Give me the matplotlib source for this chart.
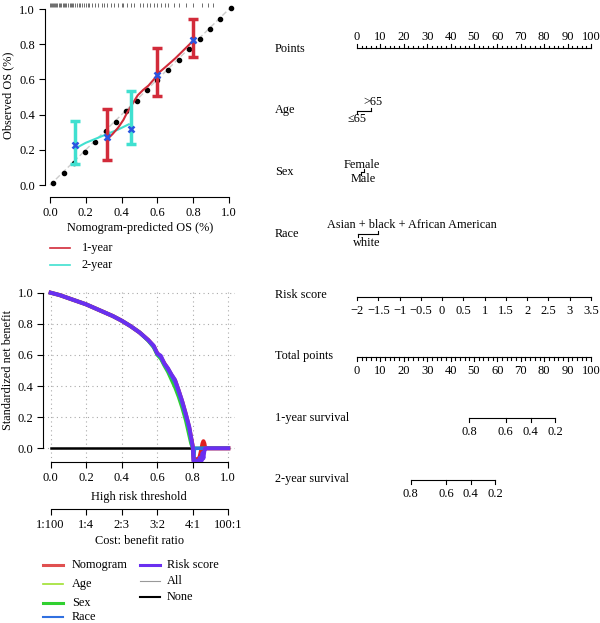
import matplotlib
matplotlib.use('Agg')
import matplotlib.pyplot as plt
from matplotlib.lines import Line2D

plt.rcParams['font.family'] = ['Liberation Serif', 'DejaVu Serif']
plt.rcParams['font.size'] = 8.8

W, H = 600, 623

# ---- calibration data ----
diag_x = [0.018, 0.078, 0.136, 0.194, 0.253, 0.311, 0.369, 0.426, 0.484, 0.542, 0.600,
          0.659, 0.719, 0.778, 0.836, 0.894, 0.951, 1.010]
diag_y = [0.011, 0.068, 0.127, 0.188, 0.246, 0.305, 0.360, 0.420, 0.480, 0.538, 0.597,
          0.653, 0.712, 0.773, 0.830, 0.888, 0.945, 1.004]

yr1_line_x = [0.325, 0.35, 0.38, 0.41, 0.43, 0.46, 0.49, 0.52, 0.55, 0.58, 0.61, 0.65, 0.70, 0.75, 0.80]
yr1_line_y = [0.265, 0.29, 0.325, 0.37, 0.41, 0.46, 0.51, 0.54, 0.565, 0.60, 0.64, 0.675, 0.72, 0.77, 0.82]
yr1_x = [0.32, 0.60, 0.80]
yr1_y = [0.275, 0.625, 0.824]
yr1_lo = [0.142, 0.507, 0.729]
yr1_hi = [0.430, 0.776, 0.943]

yr2_line_x = [0.145, 0.20, 0.26, 0.32, 0.38, 0.44]
yr2_line_y = [0.21, 0.24, 0.265, 0.29, 0.315, 0.345]
yr2_x = [0.14, 0.45]
yr2_y = [0.227, 0.318]
yr2_lo = [0.118, 0.233]
yr2_hi = [0.365, 0.534]

rug = [0.0, 0.005, 0.01, 0.015, 0.02, 0.03, 0.035, 0.04, 0.05, 0.055, 0.06, 0.07, 0.08,
       0.085, 0.09, 0.10, 0.11, 0.12, 0.125, 0.13, 0.14, 0.15, 0.16, 0.17, 0.18, 0.19,
       0.20, 0.21, 0.22, 0.235, 0.25, 0.27, 0.29, 0.30, 0.32, 0.34, 0.36, 0.38, 0.40,
       0.41, 0.43, 0.45, 0.47, 0.50, 0.52, 0.54, 0.56, 0.58, 0.60, 0.62, 0.64, 0.66,
       0.69, 0.72, 0.76, 0.80, 0.85, 0.88, 0.91]

# ---- decision curve data ----
thr = [0.0, 0.05, 0.1, 0.15, 0.2, 0.25, 0.3, 0.35, 0.4, 0.45, 0.5, 0.55, 0.58, 0.6, 0.62,
       0.64, 0.66, 0.68, 0.7, 0.72, 0.74, 0.76, 0.78, 0.79, 0.80, 0.805, 0.81, 0.82, 0.83,
       0.84, 0.85, 0.855, 0.86, 0.865, 0.87, 0.88, 0.9, 0.95, 1.0]
nb_nomogram = [1.0, 0.985, 0.965, 0.945, 0.925, 0.90, 0.875, 0.85, 0.82, 0.785, 0.745, 0.695,
               0.655, 0.61, 0.585, 0.545, 0.51, 0.47, 0.435, 0.37, 0.30, 0.22, 0.13, 0.07,
               0.01, -0.08, -0.08, -0.07, -0.08, -0.05, 0.0, 0.03, 0.045, 0.03, 0.0, 0.0,
               0.0, 0.0, 0.0]
nb_age = [1.0, 0.985, 0.965, 0.945, 0.925, 0.90, 0.875, 0.85, 0.82, 0.785, 0.745, 0.69,
          0.65, 0.605, 0.58, 0.535, 0.50, 0.455, 0.41, 0.35, 0.28, 0.20, 0.10, 0.05,
          0.0, -0.03, 0.0, 0.0, 0.0, 0.0, 0.0, 0.0, 0.0, 0.0, 0.0, 0.0, 0.0, 0.0, 0.0]
nb_sex = [1.0, 0.985, 0.965, 0.945, 0.925, 0.90, 0.875, 0.85, 0.82, 0.785, 0.745, 0.69,
          0.648, 0.60, 0.575, 0.53, 0.49, 0.44, 0.39, 0.33, 0.26, 0.18, 0.08, 0.03,
          0.0, 0.0, 0.0, 0.0, 0.0, 0.0, 0.0, 0.0, 0.0, 0.0, 0.0, 0.0, 0.0, 0.0, 0.0]
nb_race = [1.0, 0.985, 0.965, 0.945, 0.925, 0.90, 0.875, 0.85, 0.82, 0.785, 0.745, 0.693,
           0.652, 0.607, 0.585, 0.54, 0.505, 0.465, 0.425, 0.36, 0.29, 0.21, 0.12, 0.06,
           0.0, -0.085, 0.0, 0.0, 0.0, 0.0, 0.0, 0.0, 0.0, 0.0, 0.0, 0.0, 0.0, 0.0, 0.0]
nb_risk = [1.0, 0.985, 0.965, 0.945, 0.925, 0.90, 0.875, 0.85, 0.82, 0.785, 0.745, 0.695,
           0.66, 0.61, 0.595, 0.545, 0.515, 0.475, 0.44, 0.375, 0.305, 0.225, 0.14, 0.075,
           0.01, -0.085, -0.085, -0.08, -0.085, -0.06, -0.08, -0.03, -0.065, -0.02, 0.0,
           0.0, 0.0, 0.0, 0.0]
nb_all = [1.0, 0.985, 0.965, 0.945, 0.925, 0.90, 0.875, 0.85, 0.82, 0.785, 0.745, 0.69,
          0.648, 0.60, 0.575, 0.53, 0.49, 0.44, 0.39, 0.33, 0.26, 0.18, 0.08, 0.03,
          0.0, 0.0, 0.0, 0.0, 0.0, 0.0, 0.0, 0.0, 0.0, 0.0, 0.0, 0.0, 0.0, 0.0, 0.0]
nb_none = [0.0] * len(thr)

cb_ticks = [0.0, 0.2, 0.4, 0.6, 0.8, 1.0]
cb_labels = ['1:100', '1:4', '2:3', '3:2', '4:1', '100:1']

# ---- nomogram data ----
row_names = ['Points', 'Age', 'Sex', 'Race', 'Risk score', 'Total points',
             '1-year survival', '2-year survival']
age_levels = ['\u226465', '>65']
age_pts = [0, 6]
sex_levels = ['Male', 'Female']
sex_pts = [1.5, 3.0]
race_levels = ['white', 'Asian + black + African American']
race_pts = [0.3, 9.0]
risk_vals = [-2, -1.5, -1, -0.5, 0, 0.5, 1, 1.5, 2, 2.5, 3, 3.5]
surv_labels = ['0.8', '0.6', '0.4', '0.2']
surv1_pts = [48.0, 63.5, 74.2, 84.6]
surv2_pts = [22.9, 38.0, 48.6, 59.1]


def box(x0, y0, x1, y1):
    return [x0 / W, 1 - y1 / H, (x1 - x0) / W, (y1 - y0) / H]


def r_style(ax):
    for s in ['top', 'right']:
        ax.spines[s].set_visible(False)
    ax.spines['left'].set_bounds(0, 1)
    ax.spines['bottom'].set_bounds(0, 1)
    ax.tick_params(direction='out', length=4, width=0.8, pad=3, labelsize=9)


fig = plt.figure(figsize=(W / 100, H / 100), dpi=100)

# ---------------- calibration plot ----------------
ax1 = fig.add_axes(box(44.6, 2, 236.2, 197))
ax1.set_xlim(-0.03, 1.04)
ax1.set_ylim(-0.068, 1.04)
ax1.plot([0, 1], [0, 1], color='#cccccc', lw=1, ls=(0, (4, 2)), zorder=1)
ax1.plot(diag_x, diag_y, 'o', color='black', ms=3, zorder=2)
ax1.vlines(rug, 1.012, 1.032, color='#555555', lw=0.6)
ax1.plot(yr2_line_x, yr2_line_y, color='#40e0d0', lw=1.5, zorder=3)
ax1.plot(yr1_line_x, yr1_line_y, color='#d22b3a', lw=1.5, zorder=3)
ax1.vlines(yr2_x, yr2_lo, yr2_hi, color='#40e0d0', lw=2.5, zorder=4)
ax1.plot(yr2_x, yr2_lo, '_', color='#40e0d0', ms=7, mew=2.5, zorder=4)
ax1.plot(yr2_x, yr2_hi, '_', color='#40e0d0', ms=7, mew=2.5, zorder=4)
ax1.vlines(yr1_x, yr1_lo, yr1_hi, color='#d22b3a', lw=2.5, zorder=4)
ax1.plot(yr1_x, yr1_lo, '_', color='#d22b3a', ms=7, mew=2.5, zorder=4)
ax1.plot(yr1_x, yr1_hi, '_', color='#d22b3a', ms=7, mew=2.5, zorder=4)
ax1.plot(yr1_x + yr2_x, yr1_y + yr2_y, 'x', color='#2a55e0', ms=5, mew=1.8, zorder=5)
ax1.set_xticks([0, 0.2, 0.4, 0.6, 0.8, 1.0])
ax1.set_yticks([0, 0.2, 0.4, 0.6, 0.8, 1.0])
ax1.set_xticklabels(['0.0', '0.2', '0.4', '0.6', '0.8', '1.0'])
ax1.set_yticklabels(['0.0', '0.2', '0.4', '0.6', '0.8', '1.0'])
ax1.set_xlabel('Nomogram-predicted OS (%)')
ax1.set_ylabel('Observed OS (%)')
ax1.xaxis.set_label_coords(0.5, -0.128)
ax1.yaxis.set_label_coords(-0.16, 0.523)
r_style(ax1)

# ---------------- decision curve ----------------
ax2 = fig.add_axes(box(43.2, 289.6, 235.4, 462.3))
ax2.set_xlim(-0.042, 1.04)
ax2.set_ylim(-0.09, 1.02)
for g in [0, 0.2, 0.4, 0.6, 0.8, 1.0]:
    ax2.axvline(g, color='#aaaaaa', lw=0.8, ls=(0, (1, 3)), zorder=0)
    ax2.axhline(g, color='#aaaaaa', lw=0.8, ls=(0, (1, 3)), zorder=0)
ax2.plot(thr, nb_none, color='black', lw=1.8, zorder=1)
ax2.plot(thr, nb_all, color='#999999', lw=1, zorder=2)
ax2.plot(thr, nb_nomogram, color='#e02020', lw=3, zorder=3)
ax2.plot(thr, nb_age, color='#a0e030', lw=1.5, zorder=4)
ax2.plot(thr, nb_sex, color='#30d030', lw=2.5, zorder=5)
ax2.plot(thr, nb_race, color='#3070e0', lw=2.5, zorder=6)
ax2.plot(thr, nb_risk, color='#6a2ff0', lw=2.8, zorder=7)
ax2.set_xticks([0, 0.2, 0.4, 0.6, 0.8, 1.0])
ax2.set_xticklabels(['0.0', '0.2', '0.4', '0.6', '0.8', '1.0'])
ax2.set_yticks([0, 0.2, 0.4, 0.6, 0.8, 1.0])
ax2.set_yticklabels(['0.0', '0.2', '0.4', '0.6', '0.8', '1.0'])
ax2.set_xlabel('High risk threshold')
ax2.set_ylabel('Standardized net benefit')
ax2.xaxis.set_label_coords(0.5, -0.166)
ax2.yaxis.set_label_coords(-0.152, 0.534)
r_style(ax2)
sec = ax2.secondary_xaxis(-0.272)
sec.set_xticks(cb_ticks)
sec.set_xticklabels(cb_labels)
sec.spines['bottom'].set_bounds(0, 1)
sec.tick_params(direction='out', length=4, width=0.8, pad=3, labelsize=9)
sec.set_xlabel('Cost: benefit ratio', labelpad=3)

# ---------------- legends (pixel overlay) ----------------
ov = fig.add_axes([0, 0, 1, 1])
ov.set_xlim(0, W)
ov.set_ylim(H, 0)
ov.axis('off')
ov.patch.set_alpha(0)


def legend_rows(x_line, x_text, ys, labels, colors, widths):
    for y, lab, c, lw in zip(ys, labels, colors, widths):
        ov.add_line(Line2D([x_line, x_line + 20], [y, y], color=c, lw=lw))
        ov.text(x_text, y, lab, va='center', ha='left')


legend_rows(50, 82, [248, 265], ['1-year', '2-year'], ['#d22b3a', '#40e0d0'], [1.2, 1.2])
legend_rows(43, 72, [565, 584, 602.5, 617], ['Nomogram', 'Age', 'Sex', 'Race'],
            ['#e05050', '#a0e030', '#30d030', '#3070e0'], [2.2, 1.2, 2.2, 1.5])
legend_rows(140, 167, [565, 581, 597], ['Risk score', 'All', 'None'],
            ['#6a2ff0', '#999999', 'black'], [2.2, 0.8, 1.5])

# ---------------- nomogram ----------------
ax3 = fig.add_axes(box(260, 0, 600, 623))
ax3.set_xlim(-41.45, 103.85)
ax3.set_ylim(H, 0)
ax3.axis('off')
ax3.patch.set_alpha(0)
row_y = [49, 110, 172, 234, 295, 356, 418, 479]
for name, y in zip(row_names, row_y):
    ax3.text(-35, y, name, ha='left', va='center')

tk = dict(color='black', lw=0.8)
# Points scale
y = 47.7
ax3.plot([0, 100], [y, y], **tk)
for p in range(0, 101, 2):
    ax3.plot([p, p], [y, y - (3.5 if p % 10 == 0 else 2.2)], **tk)
for p in range(0, 101, 10):
    ax3.text(p, 36.5, str(p), ha='center', va='center', fontsize=9)

# Age
y = 110.7
ax3.plot(age_pts, [y, y], **tk)
ax3.plot([age_pts[0]] * 2, [y, y + 3], **tk)
ax3.plot([age_pts[1]] * 2, [y, y - 3], **tk)
ax3.text(age_pts[0] + 0.2, 118.5, age_levels[0], ha='center', va='center')
ax3.text(age_pts[1] + 0.8, 102, age_levels[1], ha='center', va='center')

# Sex
y = 171.5
ax3.plot(sex_pts, [y, y], **tk)
ax3.plot([sex_pts[0]] * 2, [y, y + 3], **tk)
ax3.plot([sex_pts[1]] * 2, [y, y - 3], **tk)
ax3.text(2.6, 179, sex_levels[0], ha='center', va='center')
ax3.text(2.0, 164.5, sex_levels[1], ha='center', va='center')

# Race
y = 233.5
ax3.plot(race_pts, [y, y], **tk)
ax3.plot([race_pts[0]] * 2, [y, y + 3], **tk)
ax3.plot([race_pts[1]] * 2, [y, y - 3], **tk)
ax3.text(4.0, 243.5, race_levels[0], ha='center', va='center')
ax3.text(23.5, 225, race_levels[1], ha='center', va='center')

# Risk score
y = 296.7
rs_pts = [(v + 2) / 5.5 * 100 for v in risk_vals]
ax3.plot([rs_pts[0], rs_pts[-1]], [y, y], **tk)
for p, v in zip(rs_pts, risk_vals):
    ax3.plot([p, p], [y, y + 3.5], **tk)
    lab = ('%g' % v).replace('-', '\u2212')
    ax3.text(p, 311, lab, ha='center', va='center', fontsize=9)

# Total points
y = 357
ax3.plot([0, 100], [y, y], **tk)
for p in range(0, 101, 2):
    ax3.plot([p, p], [y, y + (3.5 if p % 10 == 0 else 2.5)], **tk)
for p in range(0, 101, 10):
    ax3.text(p, 371, str(p), ha='center', va='center', fontsize=9)

# survival scales
for pts, y in [(surv1_pts, 418.3), (surv2_pts, 480)]:
    ax3.plot([pts[0], pts[-1]], [y, y], **tk)
    for p, lab in zip(pts, surv_labels):
        ax3.plot([p, p], [y, y + 3.5], **tk)
        ax3.text(p, y + 14, lab, ha='center', va='center', fontsize=9)

fig.savefig('out.png', dpi=100)
